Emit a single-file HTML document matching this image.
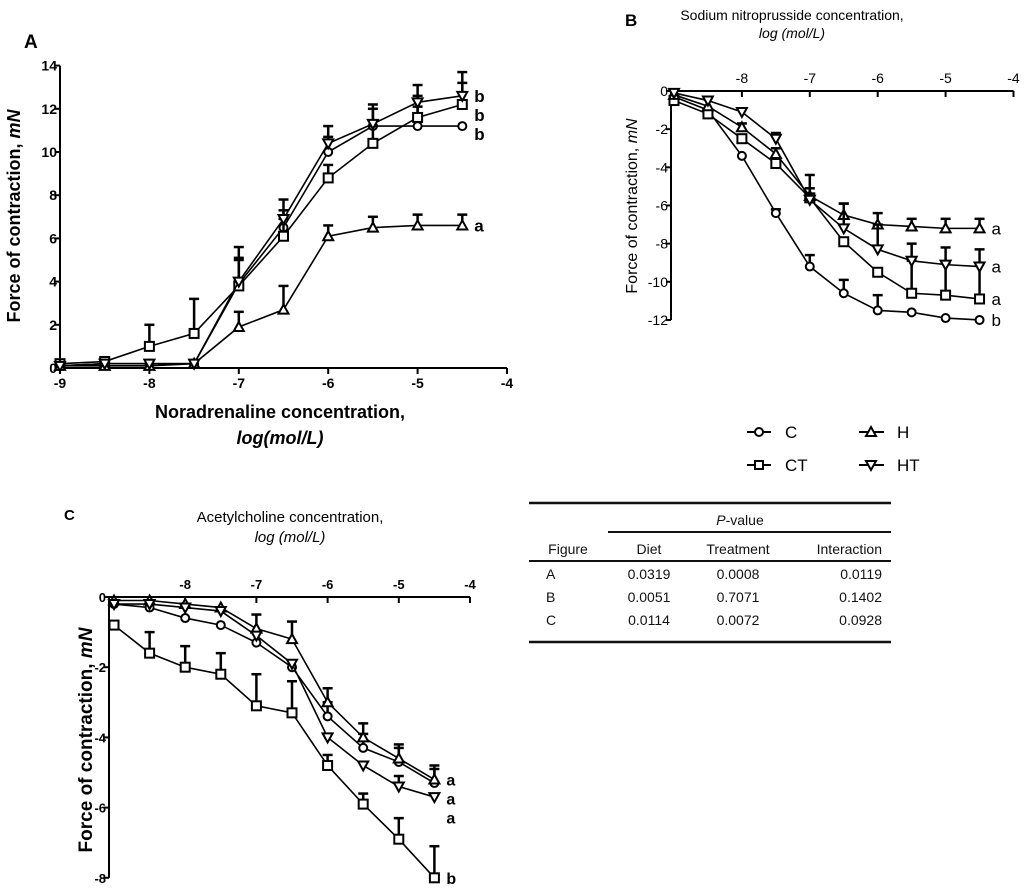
<!DOCTYPE html>
<html><head><meta charset="utf-8"><style>
html,body{margin:0;padding:0;background:#fff;}
svg{display:block;font-family:"Liberation Sans",Arial,sans-serif;}
</style></head><body>
<svg id="fig" width="1024" height="891" viewBox="0 0 1024 891">
<g>
<text x="24" y="48" font-size="19" font-weight="bold">A</text>
<text x="280" y="418" font-size="18" font-weight="bold" text-anchor="middle">Noradrenaline concentration,</text>
<text x="280" y="444" font-size="18" font-weight="bold" font-style="italic" text-anchor="middle">log(mol/L)</text>
<text transform="translate(20,216) rotate(-90)" font-size="18" font-weight="bold" text-anchor="middle">Force of contraction, <tspan font-style="italic">mN</tspan></text>
</g>
<g>
<text x="625" y="26" font-size="17" font-weight="bold">B</text>
<text x="792" y="20" font-size="14" text-anchor="middle">Sodium nitroprusside concentration,</text>
<text x="792" y="38" font-size="14" font-style="italic" text-anchor="middle">log (mol/L)</text>
<text transform="translate(637,206) rotate(-90)" font-size="16" text-anchor="middle">Force of contraction, <tspan font-style="italic">mN</tspan></text>
</g>
<g>
<text x="64" y="520" font-size="15" font-weight="bold">C</text>
<text x="290" y="522" font-size="15" text-anchor="middle">Acetylcholine concentration,</text>
<text x="290" y="542" font-size="15" font-style="italic" text-anchor="middle">log (mol/L)</text>
<text transform="translate(92,740) rotate(-90)" font-size="19" font-weight="bold" text-anchor="middle">Force of contraction, <tspan font-style="italic">mN</tspan></text>
</g>
<g font-size="17">
<g><line x1="747" y1="432" x2="771" y2="432" stroke="#000" stroke-width="2"/><circle cx="759" cy="432" r="4" fill="#fff" stroke="#000" stroke-width="2"/><text x="785" y="438">C</text></g>
<g><line x1="859" y1="432" x2="884" y2="432" stroke="#000" stroke-width="2"/><path d="M871,427 L876,436 L866,436 Z" fill="#fff" stroke="#000" stroke-width="2"/><text x="897" y="438">H</text></g>
<g><line x1="747" y1="465" x2="771" y2="465" stroke="#000" stroke-width="2"/><rect x="755" y="461" width="8" height="8" fill="#fff" stroke="#000" stroke-width="2"/><text x="785" y="471">CT</text></g>
<g><line x1="859" y1="465" x2="884" y2="465" stroke="#000" stroke-width="2"/><path d="M866,461 L876,461 L871,470 Z" fill="#fff" stroke="#000" stroke-width="2"/><text x="897" y="471">HT</text></g>
</g>
<g font-size="14" fill="#111">
<line x1="529" y1="503" x2="891" y2="503" stroke="#111" stroke-width="2.5"/>
<line x1="608" y1="532" x2="891" y2="532" stroke="#111" stroke-width="2"/>
<line x1="529" y1="561" x2="891" y2="561" stroke="#111" stroke-width="2"/>
<line x1="529" y1="642" x2="891" y2="642" stroke="#111" stroke-width="2.5"/>
<text x="740" y="525" text-anchor="middle"><tspan font-style="italic">P</tspan>-value</text>
<text x="568" y="554" text-anchor="middle">Figure</text>
<text x="649" y="554" text-anchor="middle">Diet</text>
<text x="738" y="554" text-anchor="middle">Treatment</text>
<text x="882" y="554" text-anchor="end">Interaction</text>
<text x="546" y="579">A</text><text x="649" y="579" text-anchor="middle">0.0319</text><text x="738" y="579" text-anchor="middle">0.0008</text><text x="882" y="579" text-anchor="end">0.0119</text>
<text x="546" y="602">B</text><text x="649" y="602" text-anchor="middle">0.0051</text><text x="738" y="602" text-anchor="middle">0.7071</text><text x="882" y="602" text-anchor="end">0.1402</text>
<text x="546" y="625">C</text><text x="649" y="625" text-anchor="middle">0.0114</text><text x="738" y="625" text-anchor="middle">0.0072</text><text x="882" y="625" text-anchor="end">0.0928</text>
</g>
</svg>
<script>
const doses = [-9,-8.5,-8,-7.5,-7,-6.5,-6,-5.5,-5,-4.5];
const xTicksA = [-9,-8,-7,-6,-5,-4];
const xTicksBC = [-8,-7,-6,-5,-4];
const yTicksA = [0,2,4,6,8,10,12,14];
const yTicksB = [0,-2,-4,-6,-8,-10,-12];
const yTicksC = [0,-2,-4,-6,-8];
// Panel A
const aC  = [0.1,0.2,0.2,0.2,3.9,6.5,10.0,11.2,11.2,11.2];
const aCT = [0.2,0.3,1.0,1.6,3.8,6.1,8.8,10.4,11.6,12.2];
const aH  = [0.1,0.1,0.1,0.2,1.9,2.7,6.1,6.5,6.6,6.6];
const aHT = [0.1,0.2,0.2,0.2,4.0,6.9,10.4,11.3,12.3,12.6];
const aErrC  = [0,0,0,0,1.2,0.8,0.7,0.8,0.9,0];
const aErrCT = [0,0,1.0,1.6,1.2,0.8,0.6,0.8,1.0,1.0];
const aErrH  = [0,0,0,0,0.7,1.1,0.5,0.5,0.5,0.5];
const aErrHT = [0,0,0,0,1.6,0.9,0.8,0.9,0.8,1.1];
const aSig = ['b','b','a','b'];
// Panel B
const bC  = [-0.3,-1.0,-3.4,-6.4,-9.2,-10.6,-11.5,-11.6,-11.9,-12.0];
const bCT = [-0.5,-1.2,-2.5,-3.8,-5.6,-7.9,-9.5,-10.6,-10.7,-10.9];
const bH  = [-0.2,-0.8,-1.9,-3.3,-5.5,-6.5,-7.0,-7.1,-7.2,-7.2];
const bHT = [-0.1,-0.5,-1.1,-2.5,-5.7,-7.2,-8.3,-8.9,-9.1,-9.2];
const bErrC  = [0,0,0,0.2,0.6,0.7,0.8,0,0,0];
const bErrCT = [0,0,0,0,0,0,0,1.7,1.7,1.9];
const bErrH  = [0,0,0.2,0.3,0.4,0.6,0.6,0.4,0.5,0.5];
const bErrHT = [0,0,0,0.3,1.3,1.3,1.3,0.9,0.9,0.9];
const bSig = ['b','a','a','a'];
// Panel C
const cC  = [-0.2,-0.3,-0.6,-0.8,-1.3,-2.0,-3.4,-4.3,-4.7,-5.3];
const cCT = [-0.8,-1.6,-2.0,-2.2,-3.1,-3.3,-4.8,-5.9,-6.9,-8.0];
const cH  = [-0.1,-0.1,-0.2,-0.3,-0.9,-1.2,-3.0,-4.0,-4.6,-5.2];
const cHT = [-0.2,-0.2,-0.3,-0.4,-1.1,-1.9,-4.0,-4.8,-5.4,-5.7];
const cErrC  = [0,0,0,0,0,0,0.4,0.4,0.4,0.4];
const cErrCT = [0,0.6,0.6,0.6,0.9,0.9,0.3,0.3,0.6,0.9];
const cErrH  = [0,0,0,0,0.4,0.5,0.4,0.4,0.4,0.4];
const cErrHT = [0,0,0,0,0,0,0,0,0.3,0];
const cSig = ['a','b','a','a'];

const svg = document.getElementById('fig');
const NS = 'http://www.w3.org/2000/svg';
function mk(tag, attrs, parent){ const e=document.createElementNS(NS,tag); for(const k in attrs) e.setAttribute(k,attrs[k]); parent.appendChild(e); return e; }

function marker(g, kind, x, y){
  let e;
  if(kind==='C') e=mk('circle',{cx:x,cy:y,r:4,fill:'#fff',stroke:'#000','stroke-width':2},g);
  else if(kind==='CT') e=mk('rect',{x:x-4.5,y:y-4.5,width:9,height:9,fill:'#fff',stroke:'#000','stroke-width':2},g);
  else if(kind==='H') e=mk('path',{d:`M${x},${y-5} L${x+5},${y+4} L${x-5},${y+4} Z`,fill:'#fff',stroke:'#000','stroke-width':2},g);
  else e=mk('path',{d:`M${x-5},${y-4} L${x+5},${y-4} L${x},${y+5} Z`,fill:'#fff',stroke:'#000','stroke-width':2},g);
  
  
}

function panel(cfg){
  const g = mk('g',{},svg);
  
  
  const X = v => cfg.x0 + (v - cfg.xmin) * cfg.xs;
  const Y = v => cfg.y0 - v * cfg.ys;
  const axX = cfg.axisX, axY = Y(0);
  const ya = mk('line',{x1:axX,y1:Y(cfg.yTicks[0]),x2:axX,y2:Y(cfg.yTicks[cfg.yTicks.length-1]),stroke:'#000','stroke-width':2},g);
  
  
  cfg.yTicks.forEach(t=>{
    mk('line',{x1:axX-5,y1:Y(t),x2:axX,y2:Y(t),stroke:'#000','stroke-width':2},g);
    const tx=mk('text',{x:axX-3,y:Y(t)+5,'font-size':cfg.fs,'font-weight':cfg.bold?'bold':'normal','text-anchor':'end'},g);
    tx.textContent=t;
    
    
  });
  const xa = mk('line',{x1:axX,y1:axY,x2:X(-4),y2:axY,stroke:'#000','stroke-width':2},g);
  
  
  cfg.xTicks.forEach(t=>{
    mk('line',{x1:X(t),y1:axY,x2:X(t),y2:axY+6,stroke:'#000','stroke-width':2},g);
    const tx=mk('text',{x:X(t),y:cfg.top?axY-8:axY+20,'font-size':cfg.fs,'font-weight':cfg.bold?'bold':'normal','text-anchor':'middle'},g);
    tx.textContent=t;
    
    
  });
  const kinds=['C','CT','H','HT'];
  const sigY = [];
  kinds.forEach((k,i)=>{
    const vals=cfg.series[i], errs=cfg.errs[i];
    const sg = mk('g',{},g);
    
    
    doses.forEach((d,j)=>{
      const e=errs[j]||0;
      if(e>0){
        const y1=Y(vals[j]), y2=Y(vals[j]+e);
        mk('line',{x1:X(d),y1:y1,x2:X(d),y2:y2,stroke:'#000','stroke-width':2.5},sg);
        mk('line',{x1:X(d)-5,y1:y2,x2:X(d)+5,y2:y2,stroke:'#000','stroke-width':2.5},sg);
      }
    });
    const pts=doses.map((d,j)=>X(d)+','+Y(vals[j])).join(' ');
    const pl=mk('polyline',{points:pts,fill:'none',stroke:'#000','stroke-width':1.6},sg);
    
    
    doses.forEach((d,j)=>marker(sg,k,X(d),Y(vals[j])));
    sigY.push(Y(vals[vals.length-1]));
  });
  const order = sigY.map((y,i)=>[y,i]).sort((a,b)=>a[0]-b[0]);
  let last=-1e9;
  order.forEach(([y,i])=>{
    let yy=Math.max(y,last+cfg.sigGap); last=yy;
    const t=mk('text',{x:X(-4.5)+12,y:yy+6,'font-size':cfg.fs+3,'font-weight':cfg.bold?'bold':'normal'},g);
    t.textContent=cfg.sig[i];
    
    
  });
}

panel({name:'panel-a-chart',x0:60,xmin:-9,xs:89.4,y0:368,ys:21.6,axisX:60,xTicks:xTicksA,yTicks:yTicksA,fs:14,bold:true,top:false,
  series:[aC,aCT,aH,aHT],errs:[aErrC,aErrCT,aErrH,aErrHT],sig:aSig,sigGap:19});
panel({name:'panel-b-chart',x0:674,xmin:-9,xs:67.9,y0:91,ys:19.08,axisX:671,xTicks:xTicksBC,yTicks:yTicksB,fs:14,bold:false,top:true,
  series:[bC,bCT,bH,bHT],errs:[bErrC,bErrCT,bErrH,bErrHT],sig:bSig,sigGap:20});
panel({name:'panel-c-chart',x0:114,xmin:-9,xs:71.2,y0:597,ys:35.1,axisX:109,xTicks:xTicksBC,yTicks:yTicksC,fs:13,bold:true,top:true,
  series:[cC,cCT,cH,cHT],errs:[cErrC,cErrCT,cErrH,cErrHT],sig:cSig,sigGap:19});
</script>
</body></html>
